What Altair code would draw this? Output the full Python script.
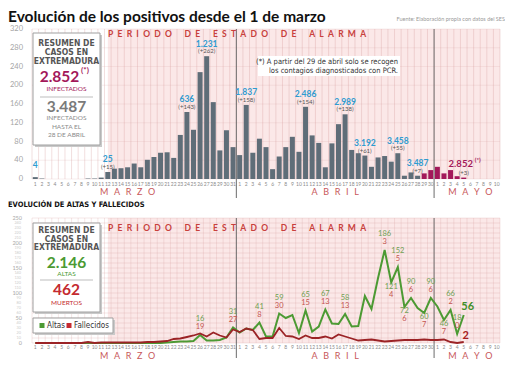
import altair as alt
import pandas as pd

NARROW = "'Liberation Sans Narrow', 'Arial Narrow', 'DejaVu Sans Condensed', 'Liberation Sans', sans-serif"
SANS = "Lato, 'Open Sans', 'Liberation Sans', sans-serif"

GRIS_BARRA = "#5f6d78"
CARMIN = "#a3185a"
AZUL = "#2f9bd0"
VERDE = "#4c9a33"
ROJO = "#9b2326"
VERDE_TXT = "#6e9f52"
ROJO_TXT = "#c4554f"
ROSA = "#fbe8e8"
ROJO_TIT = "#c8403c"

# ---------------- datos ----------------
dias_marzo = [str(d) for d in range(1, 32)]
dias_abril = [str(d) for d in range(1, 31)]
dias_mayo = [str(d) for d in range(1, 11)]
etiquetas_dias = dias_marzo + dias_abril + dias_mayo
indice = list(range(1, len(etiquetas_dias) + 1))

positivos_marzo = [4, 1, 0, 0, 0, 0, 0, 0, 1, 1, 3, 15, 22, 23, 25, 33, 25, 41, 47, 56, 57, 45,
                   94, 143, 105, 228, 262, 164, 61, 104, 68]
positivos_abril = [51, 158, 56, 86, 68, 21, 48, 68, 90, 58, 154, 93, 77, 25, 76, 117, 138, 62, 55, 50,
                   26, 46, 49, 37, 55, 7, 14, 7, 12, 19]
positivos_mayo = [26, 12, 19, 6, 3]
positivos = positivos_marzo + positivos_abril + positivos_mayo
tipo_dato = ["Total"] * 59 + ["PCR"] * 7

etq_dias = [1, 12, 24, 27, 33, 42, 48, 51, 56, 59]
etq_acumulado = ["4", "25", "636", "1.231", "1.837", "2.486", "2.989", "3.192", "3.458", "3.487"]
etq_incremento = ["", "(+15)", "(+143)", "(+262)", "(+158)", "(+154)", "(+138)", "(+61)", "(+55)", "(+7)"]
etq_pcr_dia = [66]
etq_pcr_acum = ["2.852"]
etq_pcr_inc = ["(+3)"]

altas_marzo = [0, 0, 0, 0, 0, 0, 0, 0, 0, 0, 0, 0, 0, 0, 0, 0, 0, 0, 0, 0, 1, 2,
               3, 3, 4, 16, 5, 5, 6, 11, 31]
altas_abril = [21, 29, 26, 41, 13, 13, 59, 50, 56, 20, 65, 23, 33, 67, 39, 38, 58, 33, 34, 94,
               68, 130, 186, 121, 152, 72, 90, 70, 60, 90]
altas_mayo = [73, 46, 66, 18, 56]
fallecidos_marzo = [0, 0, 0, 0, 0, 0, 0, 0, 2, 0, 1, 1, 1, 1, 1, 1, 1, 2, 2, 3, 4, 8,
                    9, 12, 15, 19, 13, 21, 15, 11, 27]
fallecidos_abril = [22, 29, 26, 8, 10, 10, 30, 14, 13, 8, 15, 10, 10, 13, 9, 17, 13, 9, 5, 6,
                    7, 5, 3, 4, 5, 6, 6, 6, 7, 6]
fallecidos_mayo = [6, 7, 2, 0, 2]
altas = altas_marzo + altas_abril + altas_mayo
fallecidos = fallecidos_marzo + fallecidos_abril + fallecidos_mayo

etq_lineas_dias = [26, 31, 35, 38, 42, 45, 48, 54, 55, 56, 57, 58, 60, 61, 63, 64, 65]
etq_lineas_pos = ["arriba", "arriba", "arriba", "arriba", "arriba", "arriba", "arriba", "arriba",
                  "abajo", "arriba", "abajo", "arriba", "abajo", "arriba", "abajo", "arriba", "arriba"]

ticks_positivos = [0, 40, 80, 120, 160, 200, 240, 280, 320]
ticks_altas_mayor = [0, 50, 100, 150, 200, 250]
ticks_altas_menor = [v for v in range(0, 251, 10) if v % 50 != 0]
grid_altas = list(range(0, 251, 10))

meses_nombre = ["MARZO", "ABRIL", "MAYO"]
meses_centro = [15, 46.5, 67]
inicio_alarma = 12
separadores = [31.5, 61.5]

# ---------------- tablas ----------------
n = len(positivos)
df_pos = pd.DataFrame({"idx": indice[:n], "positivos": positivos, "tipo": tipo_dato})
df_etq = pd.DataFrame({"idx": etq_dias, "acum": etq_acumulado, "inc": etq_incremento})
df_etq["positivos"] = [positivos[d - 1] for d in etq_dias]
df_pcr = pd.DataFrame({"idx": etq_pcr_dia, "acum": etq_pcr_acum, "inc": etq_pcr_inc})
df_pcr["positivos"] = [positivos[d - 1] for d in etq_pcr_dia]

m = len(altas)
df_lin = pd.DataFrame({"idx": indice[:m], "altas": altas, "fallecidos": fallecidos})
df_lab = pd.DataFrame({"idx": etq_lineas_dias, "pos": etq_lineas_pos})
df_lab["altas"] = [altas[d - 1] for d in etq_lineas_dias]
df_lab["fallecidos"] = [fallecidos[d - 1] for d in etq_lineas_dias]
df_fin = pd.DataFrame({"idx": [m], "altas": [altas[-1]], "fallecidos": [fallecidos[-1]]})

df_dias = pd.DataFrame({"idx": indice, "dia": etiquetas_dias})


def espaciar(s, sep="\u2002", wsep="\u2002\u2002\u2002"):
    return wsep.join(sep.join(list(w)) for w in s.split(" "))


df_meses = pd.DataFrame({"idx": meses_centro, "mes": [espaciar(x, "\u2002\u2009") for x in meses_nombre]})
df_bordes = pd.DataFrame({"b": [i + 0.5 for i in range(0, len(indice) + 1)]})
df_sep = pd.DataFrame({"s": separadores})
df_alarma = pd.DataFrame({"ini": [inicio_alarma], "fin": [len(indice) + 0.5]})
one = pd.DataFrame({"k": [0]})

# ---------------- escalas ----------------
xs = alt.Scale(domain=[0.5, len(indice) + 0.5], nice=False, zero=False)
sT = alt.Scale(domain=[0, 320], range=[171, 21], nice=False, zero=False)
sB = alt.Scale(domain=[0, 250], range=[335, 210], nice=False, zero=False)


def X(f):
    return alt.X(f"{f}:Q", scale=xs, axis=None)


def YT(f):
    return alt.Y(f"{f}:Q", scale=sT, axis=None)


def YB(f):
    return alt.Y(f"{f}:Q", scale=sB, axis=None)


def T(s, x, y, size, color, weight="normal", align="center", font=SANS, baseline="middle"):
    return alt.Chart(one).mark_text(text=s, fontSize=size, color=color, fontWeight=weight,
                                    align=align, baseline=baseline, font=font).encode(
        x=alt.value(x), y=alt.value(y))


def R(x1, y1, x2, y2, fill, stroke=None):
    kw = dict(fill=fill)
    if stroke:
        kw.update(stroke=stroke, strokeWidth=1)
    return alt.Chart(one).mark_rect(**kw).encode(
        x=alt.value(x1), x2=alt.value(x2), y=alt.value(y1), y2=alt.value(y2))


def caja(x1, y1, x2, y2):
    return [R(x1 + 2, y1 + 2, x2 + 2, y2 + 2, "#c9c9c9"), R(x1, y1, x2, y2, "white", "#a0a0a0")]


def linea(x1, x2, y, color="#bdbdbd"):
    return alt.Chart(one).mark_rule(color=color, strokeWidth=1).encode(
        x=alt.value(x1), x2=alt.value(x2), y=alt.value(y))


layers = []

# ======== GRÁFICO SUPERIOR ========
layers.append(alt.Chart(df_alarma).mark_rect(color=ROSA).encode(
    x=X("ini"), x2="fin", y=YT("y0"), y2="y1").transform_calculate(y0="0", y1="320"))
layers.append(alt.Chart(df_bordes).mark_rule(color="#d49a9a", opacity=0.45, strokeWidth=0.7).encode(
    x=X("b"), y=YT("y0"), y2="y1").transform_calculate(y0="0", y1="320"))
layers.append(alt.Chart(pd.DataFrame({"v": ticks_positivos})).mark_rule(
    color="#d49a9a", opacity=0.25, strokeWidth=0.7).encode(
    y=YT("v"), x=X("xa"), x2="xb").transform_calculate(xa="0.5", xb=str(len(indice) + 0.5)))

layers.append(alt.Chart(df_pos).mark_bar(size=5).encode(
    x=X("idx"), y=YT("positivos"), y2="cero",
    color=alt.Color("tipo:N", scale=alt.Scale(domain=["Total", "PCR"], range=[GRIS_BARRA, CARMIN]),
                    legend=None)).transform_calculate(cero="0"))

layers.append(alt.Chart(df_sep).mark_rule(color="#6b6b6b", strokeWidth=1).encode(
    x=X("s"), y=YT("top"), y2=alt.value(190)).transform_calculate(top="320"))

layers.append(alt.Chart(df_etq).mark_text(font=SANS, fontSize=8.5, fontWeight="bold", color=AZUL,
                                          dy=-12.5, baseline="middle").encode(
    x=X("idx"), y=YT("positivos"), text="acum:N"))
layers.append(alt.Chart(df_etq).mark_text(font=SANS, fontSize=6, color="#555555",
                                          dy=-5, baseline="middle").encode(
    x=X("idx"), y=YT("positivos"), text="inc:N"))
layers.append(alt.Chart(df_pcr).mark_text(font=SANS, fontSize=9.5, fontWeight="bold", color=CARMIN,
                                          dy=-14, dx=-3, baseline="middle").encode(
    x=X("idx"), y=YT("positivos"), text="acum:N"))
layers.append(alt.Chart(df_pcr).mark_text(font=SANS, fontSize=6, fontWeight="bold", color=CARMIN,
                                          dy=-17.5, dx=14, baseline="middle", text="(*)").encode(
    x=X("idx"), y=YT("positivos")))
layers.append(alt.Chart(df_pcr).mark_text(font=SANS, fontSize=6, color="#555555",
                                          dy=-5, baseline="middle").encode(
    x=X("idx"), y=YT("positivos"), text="inc:N"))

layers.append(alt.Chart(pd.DataFrame({"v": ticks_positivos})).mark_text(
    font=SANS, fontSize=7.5, color="#a5a5a5", align="right", baseline="middle").encode(
    x=alt.value(-4), y=YT("v"), text="v:Q"))
layers.append(alt.Chart(df_dias).mark_text(font=SANS, fontSize=5, color="#8a8a8a", baseline="middle").encode(
    x=X("idx"), y=alt.value(176), text="dia:N"))
layers.append(alt.Chart(df_meses).mark_text(font=SANS, fontSize=9, color="#c8585a", baseline="middle").encode(
    x=X("idx"), y=alt.value(184), text="mes:N"))

# títulos y cajas
layers.append(T("Evolución de los positivos desde el 1 de marzo", -19, 14, 15.5, "#111111", "bold", "left",
                SANS, "alphabetic"))
layers.append(T("Fuente: Elaboración propia con datos del SES", 478, 11, 5.5, "#9a9a9a", "normal", "right"))
layers.append(T(espaciar("PERIODO DE ESTADO DE ALARMA"), 81, 26, 8.5, ROJO_TIT, "bold", "left"))
layers.append(R(231, 48, 373, 68, "white"))
layers.append(T("(*) A partir del 29 de abril solo se recogen", 371, 54, 7.5, "#333333", "normal", "right", NARROW))
layers.append(T("los contagios diagnosticados con PCR.", 371, 63, 7.5, "#333333", "normal", "right", NARROW))

layers += caja(6, 25, 73, 137)
layers.append(T("RESUMEN DE", 39.5, 35, 8.5, "#555555", "bold", "center", NARROW))
layers.append(T("CASOS EN", 39.5, 44, 8.5, "#555555", "bold", "center", NARROW))
layers.append(T("EXTREMADURA", 39.5, 53, 8.5, "#555555", "bold", "center", NARROW))
layers.append(T("2.852", 32.5, 69, 15.5, CARMIN, "bold"))
layers.append(T("(*)", 58, 63, 8, CARMIN, "bold"))
layers.append(T("INFECTADOS", 39.5, 81, 6.5, CARMIN))
layers.append(linea(13, 66, 89))
layers.append(T("3.487", 39.5, 99, 15.5, "#7a7a7a", "bold"))
layers.append(T("INFECTADOS", 39.5, 110, 6.5, "#8a8a8a"))
layers.append(T("HASTA EL", 39.5, 119, 6.5, "#8a8a8a"))
layers.append(T("28 DE ABRIL", 39.5, 127, 6.5, "#8a8a8a"))

# ======== GRÁFICO INFERIOR ========
layers.append(T("EVOLUCIÓN DE ALTAS Y FALLECIDOS", -19, 197, 7.5, "#111111", "bold", "left", NARROW))
layers.append(alt.Chart(df_alarma).mark_rect(color=ROSA).encode(
    x=X("ini"), x2="fin", y=YB("y0"), y2="y1").transform_calculate(y0="0", y1="250"))
layers.append(alt.Chart(df_bordes).mark_rule(color="#d49a9a", opacity=0.4, strokeWidth=0.6).encode(
    x=X("b"), y=YB("y0"), y2="y1").transform_calculate(y0="0", y1="250"))
layers.append(alt.Chart(pd.DataFrame({"v": grid_altas})).mark_rule(
    color="#d49a9a", opacity=0.4, strokeWidth=0.6).encode(
    y=YB("v"), x=X("xa"), x2="xb").transform_calculate(xa="0.5", xb=str(len(indice) + 0.5)))
layers.append(alt.Chart(df_sep).mark_rule(color="#6b6b6b", strokeWidth=1).encode(
    x=X("s"), y=YB("top"), y2=alt.value(350)).transform_calculate(top="250"))

layers.append(alt.Chart(df_lin).mark_line(color=VERDE, strokeWidth=2).encode(x=X("idx"), y=YB("altas")))
layers.append(alt.Chart(df_lin).mark_line(color=ROJO, strokeWidth=1.8).encode(x=X("idx"), y=YB("fallecidos")))

for pos, dg, dr in [("arriba", -16, -8), ("abajo", 4, 12)]:
    layers.append(alt.Chart(df_lab).transform_filter(alt.datum.pos == pos).mark_text(
        font=SANS, fontSize=7.5, color=VERDE_TXT, dy=dg, baseline="middle").encode(
        x=X("idx"), y=YB("altas"), text="altas:Q"))
    layers.append(alt.Chart(df_lab).transform_filter(alt.datum.pos == pos).mark_text(
        font=SANS, fontSize=7.5, color=ROJO_TXT, dy=dr, baseline="middle").encode(
        x=X("idx"), y=YB("altas"), text="fallecidos:Q"))
layers.append(alt.Chart(df_fin).mark_text(font=SANS, fontSize=11, fontWeight="bold", color="#3f8f2a",
                                          dx=4, dy=-8, baseline="middle").encode(
    x=X("idx"), y=YB("altas"), text="altas:Q"))
layers.append(alt.Chart(df_fin).mark_text(font=SANS, fontSize=11, fontWeight="bold", color="#a82020",
                                          dx=2, dy=-6, baseline="middle").encode(
    x=X("idx"), y=YB("fallecidos"), text="fallecidos:Q"))

layers.append(alt.Chart(pd.DataFrame({"v": ticks_altas_menor})).mark_text(
    font=SANS, fontSize=3.8, color="#cdcdcd", align="right", baseline="middle").encode(
    x=alt.value(-6), y=YB("v"), text="v:Q"))
layers.append(alt.Chart(pd.DataFrame({"v": ticks_altas_mayor})).mark_text(
    font=SANS, fontSize=5.5, color="#a8a8a8", align="right", baseline="middle").encode(
    x=alt.value(-5), y=YB("v"), text="v:Q"))
layers.append(alt.Chart(df_dias).mark_text(font=SANS, fontSize=5, color="#8a8a8a", baseline="middle").encode(
    x=X("idx"), y=alt.value(338.5), text="dia:N"))
layers.append(alt.Chart(df_meses).mark_text(font=SANS, fontSize=9, color="#c8585a", baseline="middle").encode(
    x=X("idx"), y=alt.value(347.5), text="mes:N"))
layers.append(T(espaciar("PERIODO DE ESTADO DE ALARMA"), 81, 220, 8.5, ROJO_TIT, "bold", "left"))

layers += caja(6, 215, 73, 304)
layers.append(T("RESUMEN DE", 39.5, 222, 8.5, "#555555", "bold", "center", NARROW))
layers.append(T("CASOS EN", 39.5, 230.5, 8.5, "#555555", "bold", "center", NARROW))
layers.append(T("EXTREMADURA", 39.5, 239, 8.5, "#555555", "bold", "center", NARROW))
layers.append(T("2.146", 39.5, 255, 15.5, "#4c9a33", "bold"))
layers.append(T("ALTAS", 39.5, 266, 6.5, "#4c9a33"))
layers.append(linea(13, 66, 272))
layers.append(T("462", 39.5, 282, 15.5, "#c42a30", "bold"))
layers.append(T("MUERTOS", 39.5, 294.5, 6.5, "#c42a30"))

layers += caja(6, 310, 86, 325)
layers.append(R(12.5, 315, 17.5, 320, "#4c9a33"))
layers.append(T("Altas", 20, 317.5, 8, "#333333", "normal", "left", NARROW))
layers.append(R(39.5, 315, 44.5, 320, "#c42a30"))
layers.append(T("Fallecidos", 47, 317.5, 8, "#333333", "normal", "left", NARROW))

chart = alt.layer(*layers).resolve_scale(y="independent").properties(
    width=478, height=360,
    autosize=alt.AutoSizeParams(type="none"),
    padding={"left": 19, "top": 0, "right": 0, "bottom": 0},
).configure_view(strokeWidth=0)

chart.save("out.html", embed_options={"renderer": "svg", "actions": False})
